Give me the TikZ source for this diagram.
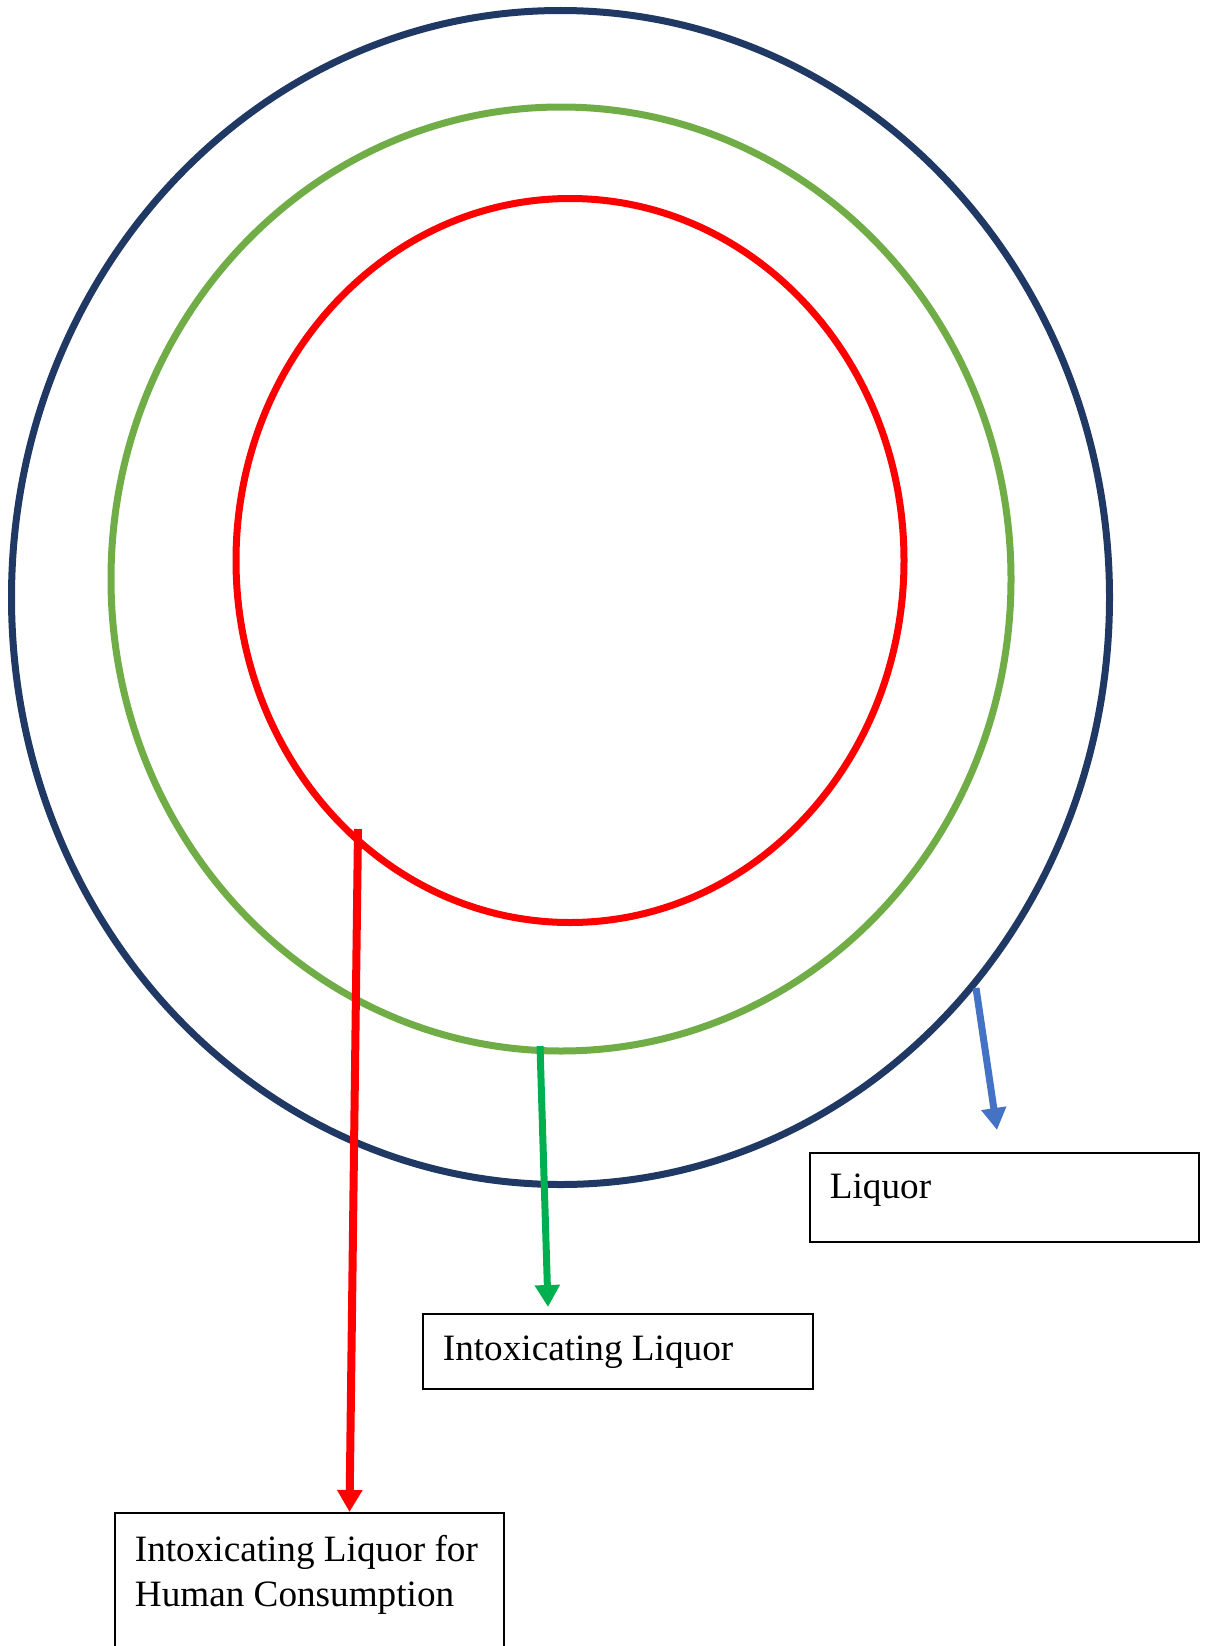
\documentclass[tikz,border=0pt]{standalone}
\usepackage{fontspec}
\setmainfont{Liberation Serif}
\usetikzlibrary{shapes.geometric,arrows.meta}
\definecolor{navyc}{HTML}{203864}
\definecolor{greenc}{HTML}{70AD47}
\definecolor{redc}{HTML}{FF0000}
\definecolor{bluearr}{HTML}{4472C4}
\definecolor{greenarr}{HTML}{00B050}
\tikzset{
  ring/.style={draw, ellipse, inner sep=0pt, line width=7pt},
  arr/.style={line width=7pt, -{Triangle[width=24pt,length=22pt]}},
  labelbox/.style={draw=black, line width=1.8pt, rectangle, anchor=north west,
    align=flush left, inner ysep=0pt, inner xsep=20pt,
    font=\fontsize{37.2}{45}\selectfont}
}
\begin{document}
\begin{tikzpicture}[x=1pt,y=-1pt]
\useasboundingbox (0,0) rectangle (1207,1646);
\clip (0,0) rectangle (1207,1646);
\fill[white] (0,0) rectangle (1207,1646);
% rings
\node[ring, draw=navyc, minimum width=1098pt, minimum height=1174pt] (outer) at (560.5,597.5) {};
\node[ring, draw=greenc, minimum width=900pt, minimum height=944pt] (middle) at (561,579) {};
\node[ring, draw=redc, minimum width=668pt, minimum height=724pt] (inner) at (570,560.5) {};
% boxes
\node[labelbox, text width=349pt, text height=46pt, text depth=43pt] (liquor) at (809,1152) {Liquor};
\node[labelbox, text width=350pt, text height=46.3pt, text depth=28.7pt] (intox) at (422,1313) {Intoxicating Liquor};
\node[labelbox, text width=349pt, text height=49pt, text depth=139pt] (human) at (114,1512) {\mbox{Intoxicating Liquor for}\\\mbox{Human Consumption}};
% arrow coordinates
\coordinate (s1) at (976,988);
\coordinate (t1) at (997,1130);
\coordinate (s2) at (540,1046);
\coordinate (t2) at (548,1307);
\coordinate (s3) at (358,829);
\coordinate (t3) at (349.5,1512);
\draw[arr, draw=bluearr, fill=bluearr] (s1) -- (t1);
\draw[arr, draw=greenarr, fill=greenarr] (s2) -- (t2);
\draw[arr, line width=8pt, draw=redc, fill=redc] (s3) -- (t3);
\end{tikzpicture}
\end{document}
